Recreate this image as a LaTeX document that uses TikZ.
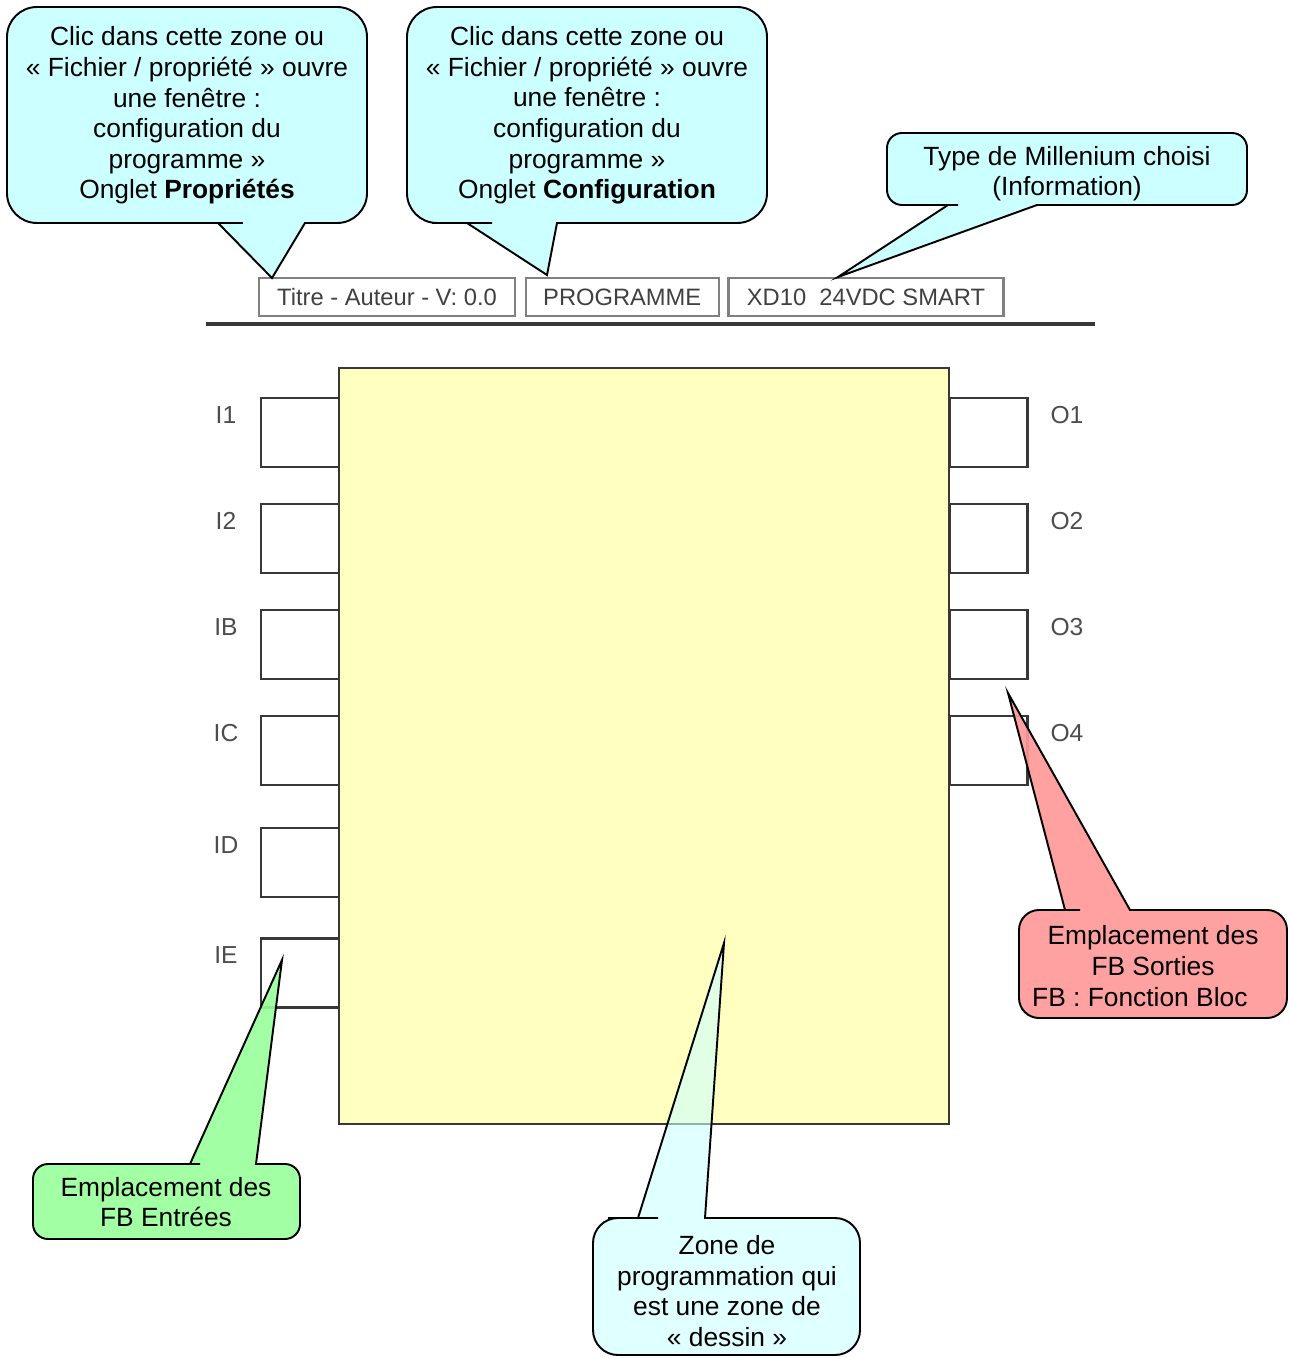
\documentclass[tikz,border=0pt]{standalone}
\usepackage{fontspec}
\setmainfont{Liberation Sans}
\usetikzlibrary{positioning}

\definecolor{cyanbulle}{HTML}{CCFFFF}
\definecolor{vertbulle}{HTML}{99FF99}
\definecolor{rougebulle}{HTML}{FF9999}
\definecolor{jaunezone}{HTML}{FFFFC0}
\definecolor{gristrait}{HTML}{383838}
\definecolor{griscadre}{HTML}{808080}

\begin{document}
\begin{tikzpicture}[
    x=0.02cm, y=-0.02cm,
    texte/.style={align=center, font=\fontsize{15}{17.4}\selectfont, inner sep=0pt},
    entete/.style={rectangle, draw=griscadre, line width=1.3pt, minimum height=0.76cm, inner sep=0pt, text=black!75, font=\fontsize{13.5}{16}\selectfont},
    borne/.style={rectangle, draw=gristrait, line width=1.3pt, fill=white, minimum width=1.56cm, minimum height=1.38cm, inner sep=0pt},
    repere/.style={text=black!70, font=\fontsize{14}{16}\selectfont, inner sep=0pt},
    bulle/.style={draw=black, line width=1.1pt, line join=miter}
  ]

    \useasboundingbox (0,0) rectangle (1290,1358);

    % En-tete du programme
    \node[entete, minimum width=5.12cm] (titre) at (387,297) {Titre - Auteur - V: 0.0};
    \node[entete, minimum width=3.86cm, right=0.17cm of titre] (prog) {PROGRAMME};
    \node[entete, minimum width=5.5cm, right=0.15cm of prog] (module) {XD10\ \ 24VDC SMART};
    \draw[gristrait, line width=2pt] (206,324) -- (1095,324);

    % Bornes d'entree
    \node[borne] (i1) at (300,432.5) {};
    \node[borne] (i2) at (300,538.5) {};
    \node[borne] (ib) at (300,644.5) {};
    \node[borne] (ic) at (300,750.5) {};
    \node[borne] (id) at (300,862.5) {};
    \node[borne] (ie) at (300,973) {};
    \node[repere] (li1) at (226,415) {I1};
    \node[repere] (li2) at (226,521) {I2};
    \node[repere] (lib) at (226,627) {IB};
    \node[repere] (lic) at (226,733) {IC};
    \node[repere] (lid) at (226,845) {ID};
    \node[repere] (lie) at (226,955) {IE};

    % Bornes de sortie
    \node[borne] (o1) at (988.5,432.5) {};
    \node[borne] (o2) at (988.5,538.5) {};
    \node[borne] (o3) at (988.5,644.5) {};
    \node[borne] (o4) at (988.5,750.5) {};
    \node[repere] (lo1) at (1067,415) {O1};
    \node[repere] (lo2) at (1067,521) {O2};
    \node[repere] (lo3) at (1067,627) {O3};
    \node[repere] (lo4) at (1067,733) {O4};

    % Zone de programmation
    \node[rectangle, draw=gristrait, line width=1.3pt, fill=jaunezone, minimum width=12.2cm, minimum height=15.12cm] (zone) at (644,746) {};

    % Bulles du haut
    \coordinate (pointe1) at (272,278);
    \coordinate (pointe2) at (547,275);
    \coordinate (pointe3) at (838,277);
    \draw[bulle, fill=cyanbulle] (213,223) -- (218,223) -- (pointe1) -- (305,223) -- (310,223) [rounded corners=0.6cm] -- (367,223) -- (367,7) -- (7,7) -- (7,223) -- cycle;
    \draw[bulle, fill=cyanbulle] (462,223) -- (467,223) -- (pointe2) -- (557,223) -- (562,223) [rounded corners=0.6cm] -- (767,223) -- (767,7) -- (407,7) -- (407,223) -- cycle;
    \draw[bulle, fill=cyanbulle] (943,205) -- (948,205) -- (pointe3) -- (1037,205) -- (1042,205) [rounded corners=0.3cm] -- (1247,205) -- (1247,133) -- (887,133) -- (887,205) -- cycle;
    \node[texte] (prop) at (187,115.5) {Clic dans cette zone ou\\«~Fichier / propriété~» ouvre\\une fenêtre :\\configuration du\\programme~»\\Onglet \textbf{Propriétés}};
    \node[texte] (config) at (587,115.5) {Clic dans cette zone ou\\«~Fichier / propriété~» ouvre\\une fenêtre :\\configuration du\\programme~»\\Onglet \textbf{Configuration}};
    \node[texte] (type) at (1067,173.5) {Type de Millenium choisi\\(Information)};

    % Bulles du bas
    \coordinate (pointe4) at (282,960);
    \coordinate (pointe5) at (1008,693);
    \coordinate (pointe6) at (724,943);
    \draw[bulle, fill=vertbulle, fill opacity=0.9] (185,1164) -- (190,1164) -- (pointe4) -- (256,1164) -- (261,1164) [rounded corners=0.3cm] -- (300,1164) -- (300,1239) -- (33,1239) -- (33,1164) -- cycle;
    \draw[bulle, fill=rougebulle, fill opacity=0.92] (1060,910) -- (1065,910) -- (pointe5) -- (1130,910) -- (1135,910) [rounded corners=0.4cm] -- (1287,910) -- (1287,1018) -- (1019,1018) -- (1019,910) -- cycle;
    \draw[bulle, fill=cyanbulle, fill opacity=0.6] (633,1218) -- (638,1218) -- (pointe6) -- (705,1218) -- (710,1218) [rounded corners=0.5cm] -- (860,1218) -- (860,1355) -- (593,1355) -- (593,1218) -- cycle;
    \node[texte] (entrees) at (166,1202) {Emplacement des\\FB Entrées};
    \node[texte] (sorties) at (1153,966) {Emplacement des\\FB Sorties\\FB : Fonction Bloc\hspace*{1em}};
    \node[texte] (dessin) at (727,1291) {Zone de\\programmation qui\\est une zone de\\«~dessin~»};

  \end{tikzpicture}
\end{document}
